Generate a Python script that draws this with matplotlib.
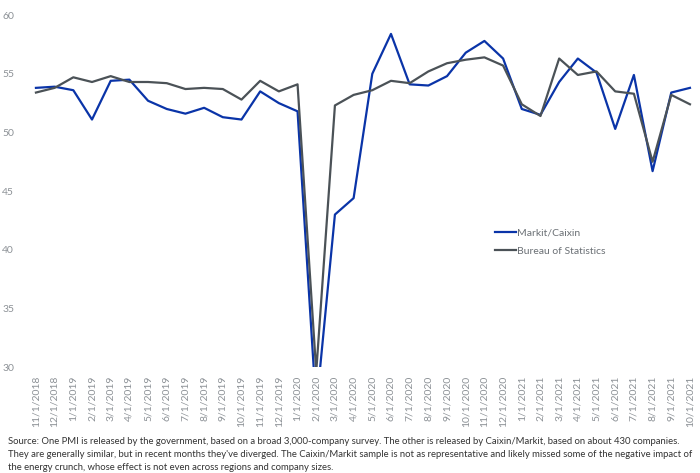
import matplotlib
matplotlib.use("Agg")
import matplotlib.pyplot as plt

plt.rcParams["font.family"] = ["Lato", "DejaVu Sans"]

blue = "#0a34a8"
grey = "#4b5257"
label_grey = "#8c9196"

months = ["11/1/2018", "12/1/2018", "1/1/2019", "2/1/2019", "3/1/2019", "4/1/2019",
          "5/1/2019", "6/1/2019", "7/1/2019", "8/1/2019", "9/1/2019", "10/1/2019",
          "11/1/2019", "12/1/2019", "1/1/2020", "2/1/2020", "3/1/2020", "4/1/2020",
          "5/1/2020", "6/1/2020", "7/1/2020", "8/1/2020", "9/1/2020", "10/1/2020",
          "11/1/2020", "12/1/2020", "1/1/2021", "2/1/2021", "3/1/2021", "4/1/2021",
          "5/1/2021", "6/1/2021", "7/1/2021", "8/1/2021", "9/1/2021", "10/1/2021"]

markit_caixin = [53.8, 53.9, 53.6, 51.1, 54.4, 54.5, 52.7, 52.0, 51.6, 52.1, 51.3, 51.1,
                 53.5, 52.5, 51.8, 26.5, 43.0, 44.4, 55.0, 58.4, 54.1, 54.0, 54.8, 56.8,
                 57.8, 56.3, 52.0, 51.5, 54.3, 56.3, 55.1, 50.3, 54.9, 46.7, 53.4, 53.8]

bureau_stats = [53.4, 53.8, 54.7, 54.3, 54.8, 54.3, 54.3, 54.2, 53.7, 53.8, 53.7, 52.8,
                54.4, 53.5, 54.1, 29.6, 52.3, 53.2, 53.6, 54.4, 54.2, 55.2, 55.9, 56.2,
                56.4, 55.7, 52.4, 51.4, 56.3, 54.9, 55.2, 53.5, 53.3, 47.5, 53.2, 52.4]

source_note = ("Source: One PMI is released by the government, based on a broad 3,000-company survey. "
               "The other is released by Caixin/Markit, based on about 430 companies.\n"
               "They are generally similar, but in recent months they've diverged. The Caixin/Markit "
               "sample is not as representative and likely missed some of the negative impact of\n"
               "the energy crunch, whose effect is not even across regions and company sizes.")

fig = plt.figure(figsize=(7, 4.73), dpi=100)
ax = fig.add_axes([0.038, 0.224, 0.961, 0.744])

x = range(len(months))
ax.plot(x, markit_caixin, color=blue, lw=1.6, label="Markit/Caixin")
ax.plot(x, bureau_stats, color=grey, lw=1.6, label="Bureau of Statistics")

ax.set_xlim(-0.5, len(months) - 0.5)
ax.set_ylim(30, 60)
ax.set_yticks(range(30, 61, 5))
ax.set_xticks(list(x))
ax.set_xticklabels(months, rotation=90, fontsize=7.5, color=label_grey)
ax.tick_params(axis="y", length=0, pad=9, labelsize=7.5, labelcolor=label_grey)
ax.tick_params(axis="x", length=0, pad=6)
for s in ax.spines.values():
    s.set_visible(False)

leg = ax.legend(loc="upper left", bbox_to_anchor=(0.69, 0.405), frameon=False,
                fontsize=7.5, handlelength=2.0, handletextpad=0.1, labelspacing=0.85,
                borderaxespad=0)
for t in leg.get_texts():
    t.set_color("#6b7075")

fig.text(0.011, 0.076, source_note, fontsize=6.85, color="#333333",
         va="top", ha="left", linespacing=1.55)

fig.savefig("out.png", dpi=100)
